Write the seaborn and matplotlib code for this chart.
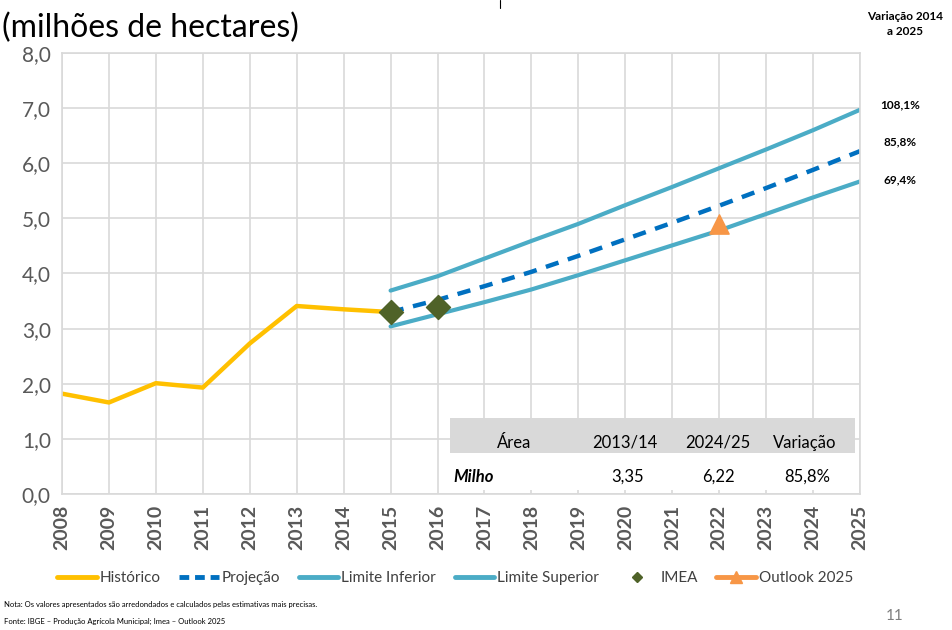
import numpy as np
import pandas as pd
import matplotlib
matplotlib.use('Agg')
import matplotlib.pyplot as plt
from matplotlib.lines import Line2D
from matplotlib.patches import Rectangle
import seaborn as sns

# --- dados ---
anos_hist = [2008, 2009, 2010, 2011, 2012, 2013, 2014, 2015]
historico = [1.82, 1.66, 2.01, 1.93, 2.73, 3.41, 3.35, 3.30]

anos_proj = [2015, 2016, 2017, 2018, 2019, 2020, 2021, 2022, 2023, 2024, 2025]
projecao = [3.30, 3.52, 3.77, 4.03, 4.32, 4.62, 4.92, 5.23, 5.55, 5.88, 6.22]
lim_inferior = [3.04, 3.26, 3.48, 3.71, 3.97, 4.24, 4.51, 4.78, 5.08, 5.38, 5.67]
lim_superior = [3.69, 3.95, 4.27, 4.59, 4.90, 5.24, 5.57, 5.91, 6.25, 6.60, 6.97]

anos_imea = [2015, 2016]
imea = [3.30, 3.39]

anos_outlook = [2022]
outlook = [4.90]

variacao_labels = ['108,1%', '85,8%', '69,4%']
tabela_header = ['Área', '2013/14', '2024/25', 'Variação']
tabela_linha = ['Milho', '3,35', '6,22', '85,8%']

C_HIST = '#FFC000'
C_PROJ = '#0070C0'
C_LIM = '#4BACC6'
C_IMEA = '#4F6228'
C_OUT = '#F79646'
C_GRID = '#D9D9D9'
C_TXT = '#595959'

sns.set_theme(style='whitegrid')
plt.rcParams['font.family'] = ['Lato', 'DejaVu Sans']

fig = plt.figure(figsize=(9.52, 6.3), dpi=100)
ax = fig.add_axes([0.0651, 0.2159, 0.9034 - 0.0651, 0.9159 - 0.2159])

df_hist = pd.DataFrame({'ano': anos_hist, 'v': historico})
df_proj = pd.DataFrame({'ano': anos_proj, 'proj': projecao, 'inf': lim_inferior, 'sup': lim_superior})

sns.lineplot(data=df_proj, x='ano', y='sup', color=C_LIM, lw=3, ax=ax)
sns.lineplot(data=df_proj, x='ano', y='inf', color=C_LIM, lw=3, ax=ax)
sns.lineplot(data=df_proj, x='ano', y='proj', color=C_PROJ, lw=3.2, ax=ax,
             linestyle=(0, (3, 2.2)))
sns.lineplot(data=df_hist, x='ano', y='v', color=C_HIST, lw=3.2, ax=ax)
sns.scatterplot(x=anos_imea, y=imea, marker='D', s=150, color=C_IMEA, edgecolor=C_IMEA, ax=ax, zorder=5)
sns.scatterplot(x=anos_outlook, y=outlook, marker='^', s=190, color=C_OUT, edgecolor=C_OUT, ax=ax, zorder=5)

ax.set_xlim(2008, 2025)
ax.set_ylim(0, 8)
ax.set_xticks(range(2008, 2026))
ax.set_yticks(range(0, 9))
ax.set_yticklabels([f'{v},0' for v in range(0, 9)])
ax.set_xlabel('')
ax.set_ylabel('')
ax.grid(True, color=C_GRID, lw=1.2)
for s in ax.spines.values():
    s.set_color(C_GRID)
    s.set_linewidth(1.2)
ax.tick_params(axis='y', labelsize=15, labelcolor=C_TXT, pad=8, length=0)
ax.tick_params(axis='x', labelsize=14, labelcolor=C_TXT, pad=8, length=0, rotation=90)
for lb in ax.get_xticklabels():
    lb.set_fontweight('bold')

# tabela
fig.patches.append(Rectangle((450 / 952, 1 - 490 / 630), 405 / 952, 37 / 630, transform=fig.transFigure,
                             facecolor='white', edgecolor='none', zorder=1))
fig.patches.append(Rectangle((450 / 952, 1 - 453 / 630), 405 / 952, 35 / 630, transform=fig.transFigure,
                             facecolor=C_GRID, edgecolor='none', zorder=1))
y_head = 1 - 443 / 630
y_row = 1 - 477 / 630
for xp, t in zip([514, 625, 718, 805], tabela_header):
    fig.text(xp / 952, y_head, t, ha='center', va='center', fontsize=12, color='black')
fig.text(453 / 952, y_row, tabela_linha[0], ha='left', va='center', fontsize=12,
         fontweight='bold', fontstyle='italic', color='black')
for xp, t in zip([628, 718, 807], tabela_linha[1:]):
    fig.text(xp / 952, y_row, t, ha='center', va='center', fontsize=12, color='black')

# titulo e anotacoes
fig.text(2 / 952, 1 - 28 / 630, '(milhões de hectares)', ha='left', va='center', fontsize=23, color='black')
fig.text(905 / 952, 1 - 24 / 630, 'Variação 2014\na 2025', ha='center', va='center', fontsize=8.5,
         fontweight='bold', color='black', linespacing=1.5)
for yp, t in zip([105, 142, 180], variacao_labels):
    fig.text(900 / 952, 1 - yp / 630, t, ha='center', va='center', fontsize=8.5, fontweight='bold', color='black')

fig.add_artist(Line2D([500 / 952, 500 / 952], [1, 1 - 8 / 630], color='black', lw=0.8))

# legenda
handles = [
    Line2D([], [], color=C_HIST, lw=3.5),
    Line2D([], [], color=C_PROJ, lw=3.5, linestyle=(0, (2, 1.2))),
    Line2D([], [], color=C_LIM, lw=3.5),
    Line2D([], [], color=C_LIM, lw=3.5),
    Line2D([], [], color=C_IMEA, marker='D', lw=0, markersize=5),
    Line2D([], [], color=C_OUT, lw=3.5, marker='^', markersize=9),
]
labels = ['Histórico', 'Projeção', 'Limite Inferior', 'Limite Superior', 'IMEA', 'Outlook 2025']
fig.legend(handles, labels, loc='center', bbox_to_anchor=(0.478, 1 - 578 / 630), ncol=6, frameon=False,
           fontsize=11, labelcolor='#404040', handlelength=2.6, handletextpad=0.2, columnspacing=1.2)

fig.text(4 / 952, 1 - 605 / 630, 'Nota: Os valores apresentados são arredondados e calculados pelas estimativas mais precisas.',
         ha='left', va='center', fontsize=5.5, color='black')
fig.text(4 / 952, 1 - 621 / 630, 'Fonte: IBGE – Produção Agrícola Municipal; Imea – Outlook 2025',
         ha='left', va='center', fontsize=5.5, color='black')
fig.text(895 / 952, 1 - 616 / 630, '11', ha='center', va='center', fontsize=11, color='#7f7f7f')

fig.savefig('out.png', dpi=100)
